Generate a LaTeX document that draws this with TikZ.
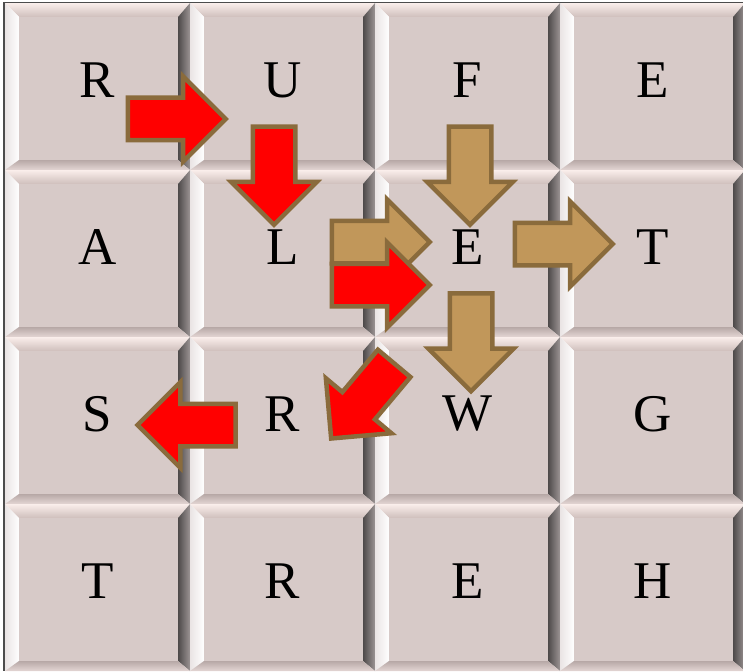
\documentclass[tikz,border=0pt]{standalone}
\usepackage{fontspec}
\setmainfont{Liberation Serif}
\usetikzlibrary{shapes.arrows}
\definecolor{tileface}{HTML}{D7CAC8}
\definecolor{bevtop}{HTML}{FAEEEB}
\definecolor{bevtopin}{HTML}{CFBFBC}
\definecolor{bevleft}{HTML}{FFFFFF}
\definecolor{bevleftout}{HTML}{EAE4E4}
\definecolor{bevright}{HTML}{4E4A4A}
\definecolor{bevrightout}{HTML}{9C9494}
\definecolor{bevbot}{HTML}{B7A8A6}
\definecolor{bevbotout}{HTML}{E4D6D4}
\definecolor{arrowred}{HTML}{FF0000}
\definecolor{arrowtan}{HTML}{C1975A}
\definecolor{arrowrim}{HTML}{8A6B3C}

\newcommand{\bevtile}[2]{%
  \begin{scope}[shift={(#1,#2)}]
    \shade[top color=bevtop, bottom color=bevtopin] (0,0) -- (185,0) -- (173,14) -- (14,14) -- cycle;
    \shade[left color=bevleftout, right color=bevleft] (0,0) -- (14,14) -- (14,157) -- (0,167) -- cycle;
    \shade[left color=bevright, right color=bevrightout] (185,0) -- (185,167) -- (173,157) -- (173,14) -- cycle;
    \shade[top color=bevbot, bottom color=bevbotout] (0,167) -- (185,167) -- (173,157) -- (14,157) -- cycle;
    \fill[tileface] (14,14) rectangle (173,157);
  \end{scope}%
}

\begin{document}
\begin{tikzpicture}[
  x=1pt, y=-1pt,
  letter/.style={font=\fontsize{53}{60}\selectfont, inner sep=0pt},
  blockarrow/.style={single arrow, anchor=tail, draw=arrowrim, line width=4.5pt, inner sep=19pt,
    minimum height=98pt, single arrow head extend=21.5pt},
  redarrow/.style={blockarrow, fill=arrowred},
  tanarrow/.style={blockarrow, fill=arrowtan}
]
  \useasboundingbox (0,0) rectangle (743,671);
  \fill[white] (0,0) rectangle (743,671);

  \bevtile{5}{3}\bevtile{190}{3}\bevtile{375}{3}\bevtile{560}{3}
  \bevtile{5}{170}\bevtile{190}{170}\bevtile{375}{170}\bevtile{560}{170}
  \bevtile{5}{337}\bevtile{190}{337}\bevtile{375}{337}\bevtile{560}{337}
  \bevtile{5}{504}\bevtile{190}{504}\bevtile{375}{504}\bevtile{560}{504}

  \draw[black!70, line width=1.5pt] (4,2.5) -- (4,671);
  \draw[black!70, line width=1.5pt] (4,2.5) -- (743,2.5);

  \node[letter] (t11) at (97.5,80) {R};
  \node[letter] (t12) at (282.5,80) {U};
  \node[letter] (t13) at (467.5,80) {F};
  \node[letter] (t14) at (652.5,80) {E};
  \node[letter] (t21) at (97.5,247) {A};
  \node[letter] (t22) at (282.5,247) {L};
  \node[letter] (t23) at (467.5,247) {E};
  \node[letter] (t24) at (652.5,247) {T};
  \node[letter] (t31) at (97.5,414) {S};
  \node[letter] (t32) at (282.5,414) {R};
  \node[letter] (t33) at (467.5,414) {W};
  \node[letter] (t34) at (652.5,414) {G};
  \node[letter] (t41) at (97.5,581) {T};
  \node[letter] (t42) at (282.5,581) {R};
  \node[letter] (t43) at (467.5,581) {E};
  \node[letter] (t44) at (652.5,581) {H};

  \node[redarrow] (rtou) at (125.5,119) {};
  \node[redarrow, rotate=-90] (utol) at (274,124.5) {};
  \node[tanarrow] (ltoe) at (329.5,242) {};
  \node[redarrow] (ltoered) at (329.5,285) {};
  \node[tanarrow, rotate=-90] (ftoe) at (470,124.5) {};
  \node[tanarrow] (etot) at (512.5,244) {};
  \node[tanarrow, rotate=-90] (etow) at (471,291) {};
  \node[redarrow, rotate=-130] (etor) at (395.6,361.7) {};
  \node[redarrow, rotate=180] (rtos) at (237.75,425) {};
\end{tikzpicture}
\end{document}
